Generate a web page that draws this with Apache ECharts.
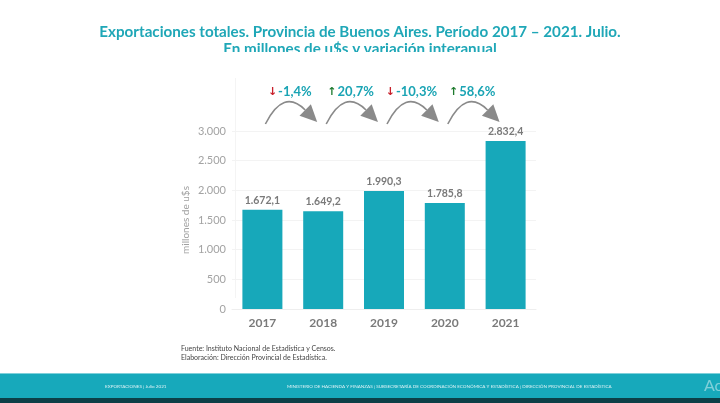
<!DOCTYPE html>
<html>
<head>
<meta charset="utf-8">
<script src="https://cdn.jsdelivr.net/npm/echarts@6/dist/echarts.min.js"></script>
<style>
  html, body { margin: 0; padding: 0; background: #fff; }
  #main { width: 720px; height: 403px; }
</style>
</head>
<body>
<div id="main"></div>
<script>
// datos
var years = ['2017', '2018', '2019', '2020', '2021'];
var exportaciones = [1672.1, 1649.2, 1990.3, 1785.8, 2832.4];
var variacion = [-1.4, 20.7, -10.3, 58.6];
var yTicks = [0, 500, 1000, 1500, 2000, 2500, 3000];

var TEAL = '#17a8ba';

function fmtNum(v, dec) {
    var s = v.toFixed(dec).split('.');
    var ent = s[0].replace(/\B(?=(\d{3})+(?!\d))/g, '.');
    return s.length > 1 ? ent + ',' + s[1] : ent;
}

// flechas curvas entre barras
var arrowData = variacion.map(function (v, i) { return [i, v]; });

function renderArrow(params, api) {
    var i = api.value(0), v = api.value(1);
    var p0 = api.coord([i, yTicks[yTicks.length - 1]]);
    var p1 = api.coord([i + 1, yTicks[yTicks.length - 1]]);
    var tail = [p0[0] + 3, p0[1] - 7];
    var end = [p1[0] - 18, p0[1] - 21];
    var ctrl = [p0[0] + 21, p0[1] - 43];
    var dx = end[0] - ctrl[0], dy = end[1] - ctrl[1];
    var len = Math.sqrt(dx * dx + dy * dy);
    dx /= len; dy /= len;
    var L = 17, W = 16;
    var tip = [end[0] + dx * L, end[1] + dy * L];
    var b1 = [end[0] - dy * W / 2, end[1] + dx * W / 2];
    var b2 = [end[0] + dy * W / 2, end[1] - dx * W / 2];
    var up = v >= 0;
    return {
        type: 'group',
        children: [{
            type: 'path',
            shape: { pathData: 'M' + tail[0] + ' ' + tail[1] + ' Q' + ctrl[0] + ' ' + ctrl[1] + ' ' + end[0] + ' ' + end[1] },
            style: { stroke: '#8a8a8a', lineWidth: 1.6, fill: null }
        }, {
            type: 'polygon',
            shape: { points: [tip, b1, b2] },
            style: { fill: '#8a8a8a' }
        }, {
            type: 'text',
            x: (p0[0] + p1[0]) / 2 - 3,
            y: p0[1] - 39,
            style: {
                text: '{a|' + (up ? '↑' : '↓') + '}{t|' + fmtNum(v, 1) + '%}',
                align: 'center',
                verticalAlign: 'middle',
                rich: {
                    a: { fontSize: 11, fontWeight: 'bold', fill: up ? '#1e7a2e' : '#c8202b', fontFamily: 'DejaVu Sans', padding: [0, 1, 0, 0] },
                    t: { fontSize: 13, fontWeight: 'bold', fill: '#1aa4b4', fontFamily: 'Lato' }
                }
            }
        }]
    };
}

var chart = echarts.init(document.getElementById('main'), null, { renderer: 'canvas' });

chart.setOption({
    backgroundColor: '#ffffff',
    animation: false,
    textStyle: { fontFamily: 'Lato' },
    grid: { left: 232, right: 184, top: 131, bottom: 94 },
    xAxis: {
        type: 'category',
        data: years,
        axisLine: { show: true, lineStyle: { color: '#eeeeee' } },
        axisTick: { show: false },
        axisLabel: { color: '#7a7a7a', fontSize: 12, fontWeight: 'bold', margin: 8 }
    },
    yAxis: {
        type: 'value',
        min: 0, max: 3000, interval: 500,
        name: 'millones de u$s',
        nameLocation: 'middle',
        nameRotate: 90,
        nameGap: 41,
        nameTextStyle: { color: '#a0a0a0', fontSize: 10 },
        axisLine: { show: false },
        axisTick: { show: false },
        splitLine: { lineStyle: { color: '#f3f3f3', width: 1 } },
        axisLabel: {
            color: '#a3a3a3', fontSize: 11, margin: 6,
            formatter: function (v) { return fmtNum(v, 0); }
        }
    },
    series: [{
        type: 'bar',
        data: exportaciones,
        barWidth: 40,
        itemStyle: { color: TEAL },
        label: {
            show: true,
            position: 'top',
            distance: 4,
            color: '#7a7a7a',
            fontSize: 10.5,
            fontWeight: 'bold',
            formatter: function (p) { return fmtNum(p.value, 1); }
        }
    }, {
        type: 'custom',
        data: arrowData,
        clip: false,
        renderItem: renderArrow,
        silent: true,
        z: 5
    }],
    graphic: [
        // titulo
        {
            type: 'text', left: 'center', top: 25, z: 10,
            style: {
                text: 'Exportaciones totales. Provincia de Buenos Aires. Período 2017 – 2021. Julio.',
                fill: '#1fa7b7', fontSize: 15.2, fontWeight: 'bold', fontFamily: 'Lato'
            }
        },
        {
            type: 'text', left: 'center', top: 42, z: 10,
            style: {
                text: 'En millones de u$s y variación interanual',
                fill: '#1fa7b7', fontSize: 15.2, fontWeight: 'bold', fontFamily: 'Lato'
            }
        },
        { type: 'rect', left: 0, top: 52, z: 11, shape: { width: 720, height: 10 }, style: { fill: '#ffffff' } },
        // linea de marco del grafico
        { type: 'rect', left: 235, top: 78, z: 0, shape: { width: 1, height: 220 }, style: { fill: '#f4f4f4' } },
        // fuente
        {
            type: 'text', left: 181, top: 345, z: 10,
            style: { text: 'Fuente: Instituto Nacional de Estadística y Censos.', fill: '#444', fontSize: 7, fontFamily: 'Lato' }
        },
        {
            type: 'text', left: 181, top: 354, z: 10,
            style: { text: 'Elaboración: Dirección Provincial de Estadística.', fill: '#444', fontSize: 7, fontFamily: 'Lato' }
        },
        // pie de pagina
        { type: 'rect', left: 0, top: 373, z: 9, shape: { width: 720, height: 25 }, style: { fill: '#17a9bb' } },
        { type: 'rect', left: 0, top: 373, z: 9, shape: { width: 720, height: 1 }, style: { fill: '#7fd0da' } },
        { type: 'rect', left: 0, top: 398, z: 9, shape: { width: 720, height: 5 }, style: { fill: '#0c3f47' } },
        {
            type: 'text', left: 105, top: 384, z: 10,
            style: { text: 'EXPORTACIONES | Julio 2021', fill: '#dff3f6', fontSize: 4.6, fontFamily: 'Lato' }
        },
        {
            type: 'text', left: 287, top: 384, z: 10,
            style: {
                text: 'MINISTERIO DE HACIENDA Y FINANZAS | SUBSECRETARÍA DE COORDINACIÓN ECONÓMICA Y ESTADÍSTICA | DIRECCIÓN PROVINCIAL DE ESTADÍSTICA',
                fill: '#dff3f6', fontSize: 4.6, fontFamily: 'Lato'
            }
        },
        {
            type: 'text', left: 704, top: 378, z: 10,
            style: { text: 'Ac', fill: 'rgba(255,255,255,0.45)', fontSize: 16, fontFamily: 'Lato' }
        }
    ]
});
</script>
</body>
</html>
